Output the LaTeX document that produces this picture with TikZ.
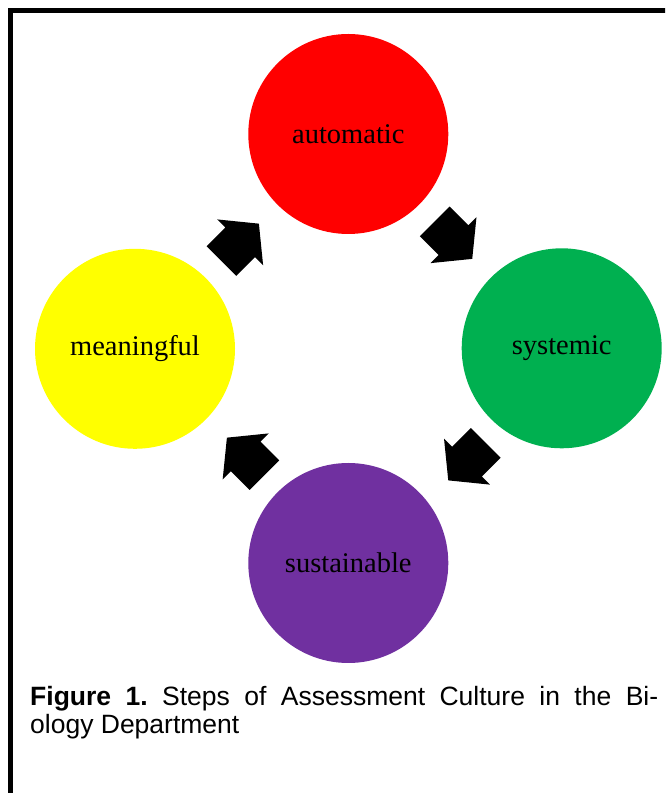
\documentclass[tikz,border=0pt]{standalone}
\usepackage{fontspec}
\setmainfont{Liberation Serif}
\newfontfamily\capfont{Liberation Sans}
\usetikzlibrary{calc}
\definecolor{stagered}{RGB}{255,0,0}
\definecolor{stagegreen}{RGB}{0,176,80}
\definecolor{stageyellow}{RGB}{255,255,0}
\definecolor{stagepurple}{RGB}{112,48,160}
\frenchspacing
\begin{document}
\begin{tikzpicture}[x=1pt,y=1pt,
  stage/.style={circle, minimum size=200pt, inner sep=0pt, text=black,
    font=\fontsize{28.5}{30}\selectfont},
  caption/.style={inner sep=0pt, anchor=base west,
    font=\capfont\fontsize{26.5}{29}\selectfont},
  pics/blockarrow/.style={code={
    \fill[black] (-26.5,-21) -- (0,-21) -- (0,-32.5) -- (26.5,0)
      -- (0,32.5) -- (0,21) -- (-26.5,21) -- cycle;}}
]
\useasboundingbox (0,0) rectangle (665,793);
\clip (0,0) rectangle (665,793);
\fill[white] (0,0) rectangle (665,793);

% open frame: top and left rules only
\draw[line width=5.3pt, line join=miter] (10.7,-10) -- (10.7,782.3) -- (690,782.3);

% the four stages
\node[stage, fill=stagered]    (automatic)   at (348.3,659)   {automatic};
\node[stage, fill=stagegreen]  (systemic)    at (561.7,444.7) {systemic};
\node[stage, fill=stagepurple] (sustainable) at (348.3,230)   {sustainable};
\node[stage, fill=stageyellow] (meaningful)  at (135,444.2)   {meaningful};

% block arrows of the cycle
\pic[rotate=45]   (stepA) at ($(meaningful)!0.5!(automatic)+(-1.5,-1)$) {blockarrow};
\pic[rotate=-45]  (stepB) at ($(automatic)!0.5!(systemic)+(-1.5,1)$)    {blockarrow};
\pic[rotate=-135] (stepC) at ($(systemic)!0.5!(sustainable)+(12,-6)$)   {blockarrow};
\pic[rotate=135]  (stepD) at ($(sustainable)!0.5!(meaningful)+(4,-0.5)$) {blockarrow};

% caption
\node[caption] (capA) at (30,87)
  {\makebox[628pt][s]{\textbf{Figure 1.} Steps of Assessment Culture in the Bi-}};
\node[caption] (capB) at (30,59.7) {ology Department};
\end{tikzpicture}
\end{document}
